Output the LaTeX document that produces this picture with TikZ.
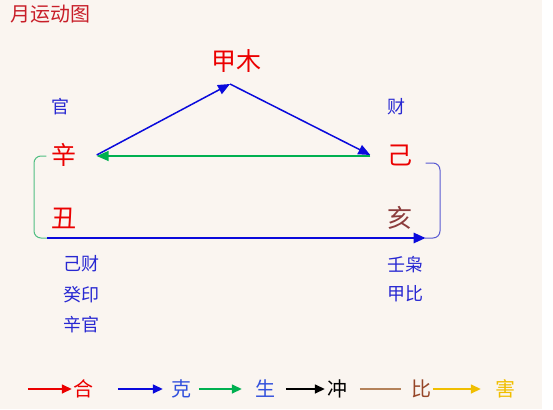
\documentclass[tikz,border=0pt]{standalone}
\usepackage{fontspec}
\setmainfont{Noto Sans CJK SC}
\usetikzlibrary{arrows.meta}

\definecolor{paper}{RGB}{250,245,240}
\definecolor{titlered}{RGB}{200,30,40}
\definecolor{stemred}{RGB}{235,0,0}
\definecolor{haibrown}{RGB}{140,60,60}
\definecolor{noteblue}{RGB}{40,40,210}
\definecolor{keblue}{RGB}{10,10,220}
\definecolor{shenggreen}{RGB}{0,176,80}
\definecolor{bracketgreen}{RGB}{80,190,130}
\definecolor{bracketblue}{RGB}{90,90,210}
\definecolor{legblue}{RGB}{50,80,220}
\definecolor{bitan}{RGB}{180,130,90}
\definecolor{bibrown}{RGB}{150,70,40}
\definecolor{haiyellow}{RGB}{240,190,0}

\tikzset{
  stem/.style={inner sep=0pt, font=\fontsize{25}{25}\selectfont, text=stemred},
  note/.style={inner sep=0pt, font=\fontsize{18}{18}\selectfont, text=noteblue},
  legend/.style={inner sep=0pt, font=\fontsize{20}{20}\selectfont},
  bigtip/.style={-{Triangle[length=12pt,width=10pt]}},
  smalltip/.style={-{Triangle[length=10pt,width=9pt]}}
}

\begin{document}
\begin{tikzpicture}[x=1pt,y=-1pt]
% Paper
  \useasboundingbox (0,0) rectangle (553,409);
  \fill[white] (0,0) rectangle (553,409);
  \fill[paper] (0,0) rectangle (542,409);

  % Title
  \node[inner sep=0pt, font=\fontsize{20}{20}\selectfont, text=titlered] (title) at (50,14) {月运动图};

  % Stems and branches
  \node[stem] (jiamu) at (236,61) {甲木};
  \node[stem] (xin) at (64,155) {辛};
  \node[stem] (ji) at (400,155) {己};
  \node[stem] (chou) at (64,218) {丑};
  \node[stem, text=haibrown] (hai) at (400,218) {亥};

  \node[note] (guan) at (60,107) {官};
  \node[note] (cai) at (396,107) {财};

  % Hidden stems
  \node[note] (chou1) at (81,264) {己财};
  \node[note] (chou2) at (81,295) {癸印};
  \node[note] (chou3) at (81,325) {辛官};
  \node[note] (hai1) at (405,265) {壬枭};
  \node[note] (hai2) at (405,294) {甲比};

  % Triangle
  \coordinate (apex) at (230,84);
  \draw[bigtip, keblue, line width=1.5pt] ([xshift=20pt]xin.east) -- (apex);
  \draw[bigtip, keblue, line width=1.5pt] (apex) -- ([xshift=-17pt]ji.west);
  \draw[bigtip, shenggreen, line width=1.5pt] ([xshift=-17pt,yshift=-1pt]ji.west) -- ([xshift=20pt,yshift=-1pt]xin.east);

  % Brackets
  \draw[bracketgreen, line width=1pt, rounded corners=7pt] ([xshift=-5pt,yshift=-1pt]xin.west) -| (34,238) -- (47,238);
  \draw[bracketblue, line width=1pt, rounded corners=7pt] ([xshift=13pt]ji.east |- 0,163) -| (440,238) -- (425,238);
  \draw[bigtip, keblue, line width=2.5pt] (47,238) -- ([xshift=13pt]hai.east |- 0,238);

  % Legend
  \node[legend, text=stemred] (he) at (83,389) {合};
  \node[legend, text=legblue] (ke) at (181,389) {克};
  \node[legend, text=legblue] (sheng) at (265,389) {生};
  \node[legend, text=black] (chong) at (337,389) {冲};
  \node[legend, text=bibrown] (bi) at (421,389) {比};
  \node[legend, text=haiyellow] (hai3) at (505,389) {害};

  \draw[smalltip, stemred, line width=1.5pt] ([xshift=-45pt]he.west) -- ([xshift=-1pt]he.west);
  \draw[smalltip, keblue, line width=1.5pt] ([xshift=-53pt]ke.west) -- ([xshift=-8pt]ke.west);
  \draw[smalltip, shenggreen, line width=1.5pt] ([xshift=-56pt]sheng.west) -- ([xshift=-13pt]sheng.west);
  \draw[smalltip, black, line width=1.5pt] ([xshift=-41pt]chong.west) -- ([xshift=-2pt]chong.west);
  \draw[bitan, line width=1.2pt] ([xshift=-51pt]bi.west) -- ([xshift=-10pt]bi.west);
  \draw[smalltip, haiyellow, line width=1.5pt] ([xshift=-62pt]hai3.west) -- ([xshift=-14pt]hai3.west);

\end{tikzpicture}
\end{document}
